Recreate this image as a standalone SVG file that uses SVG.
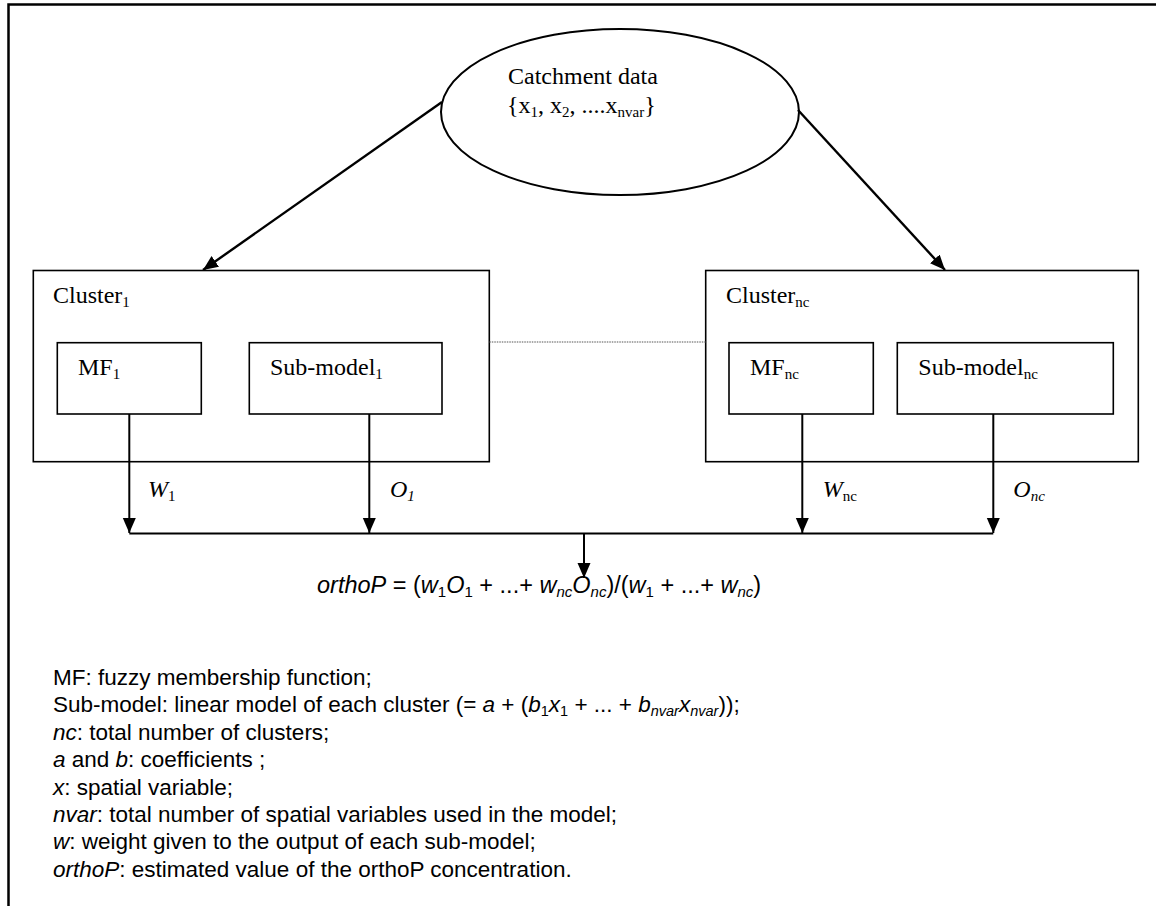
<svg xmlns="http://www.w3.org/2000/svg" width="1156" height="906" viewBox="0 0 1156 906">
<style>
.box{fill:none;stroke:#000;stroke-width:1.6}
.cn{fill:none;stroke:#000;stroke-width:2}
.diag{fill:none;stroke:#000;stroke-width:2.4}
.tm{font-family:"Liberation Serif","Times New Roman",serif;font-size:24px;fill:#000}
.ar{font-family:"Liberation Sans",Arial,sans-serif;fill:#000}
.sub{font-size:15px}
.i{font-style:italic}
</style>
<defs>
<marker id="ah" markerUnits="userSpaceOnUse" markerWidth="16" markerHeight="14" refX="15" refY="6.5" orient="auto">
<path d="M0,0 L15,6.5 L0,13 z" fill="#000"/>
</marker>
</defs>
<rect x="8.5" y="4.5" width="1160" height="910" fill="#fff" stroke="#000" stroke-width="2.5"/>

<g id="catchment">
<ellipse cx="620" cy="112" rx="179" ry="83" fill="none" stroke="#000" stroke-width="2"/>
<text class="tm" x="508" y="84">Catchment data</text>
<text class="tm" x="507" y="113">{x<tspan class="sub" dy="4">1</tspan><tspan dy="-4">, x</tspan><tspan class="sub" dy="4">2</tspan><tspan dy="-4">, ....x</tspan><tspan class="sub" dy="4">nvar</tspan><tspan dy="-4">}</tspan></text>
</g>

<g id="cluster1">
<rect class="box" x="33.3" y="270.5" width="456" height="191.2"/>
<text class="tm" x="53" y="303">Cluster<tspan class="sub" dy="4">1</tspan></text>
</g>
<g id="mf1">
<rect class="box" x="57.3" y="342.7" width="144" height="71.3"/>
<text class="tm" x="78" y="375">MF<tspan class="sub" dy="4">1</tspan></text>
</g>
<g id="submodel1">
<rect class="box" x="249.3" y="342.7" width="192.7" height="71.3"/>
<text class="tm" x="270" y="375">Sub-model<tspan class="sub" dy="4">1</tspan></text>
</g>

<g id="clusternc">
<rect class="box" x="705.7" y="270.5" width="432.6" height="191.2"/>
<text class="tm" x="726" y="303">Cluster<tspan class="sub" dy="4">nc</tspan></text>
</g>
<g id="mfnc">
<rect class="box" x="729" y="342.7" width="144.3" height="71.3"/>
<text class="tm" x="750" y="375">MF<tspan class="sub" dy="4">nc</tspan></text>
</g>
<g id="submodelnc">
<rect class="box" x="897.3" y="342.7" width="216" height="71.3"/>
<text class="tm" x="918.3" y="375">Sub-model<tspan class="sub" dy="4">nc</tspan></text>
</g>

<g id="connectors">
<line class="diag" x1="442" y1="102" x2="203" y2="270" marker-end="url(#ah)"/>
<line class="diag" x1="798" y1="110" x2="945" y2="270" marker-end="url(#ah)"/>
<line x1="489.3" y1="342" x2="705.7" y2="342" stroke="#555" stroke-width="1.2" stroke-dasharray="1.5 1"/>
<line class="cn" x1="129.3" y1="414" x2="129.3" y2="533" marker-end="url(#ah)"/>
<line class="cn" x1="369.3" y1="414" x2="369.3" y2="533" marker-end="url(#ah)"/>
<line class="cn" x1="802.3" y1="414" x2="802.3" y2="533" marker-end="url(#ah)"/>
<line class="cn" x1="993.3" y1="414" x2="993.3" y2="533" marker-end="url(#ah)"/>
<line class="cn" x1="129.3" y1="533.5" x2="993.3" y2="533.5"/>
<line class="cn" x1="584" y1="533.5" x2="584" y2="578" marker-end="url(#ah)"/>
</g>

<g id="labels">
<text class="tm" x="148" y="497"><tspan class="i">W</tspan><tspan class="sub" dy="4">1</tspan></text>
<text class="tm i" x="390" y="497">O<tspan class="sub" dy="4">1</tspan></text>
<text class="tm" x="822.7" y="497"><tspan class="i">W</tspan><tspan class="sub" dy="4">nc</tspan></text>
<text class="tm i" x="1013.3" y="497">O<tspan class="sub" dy="4">nc</tspan></text>
</g>

<g id="formula">
<text class="ar" x="317" y="593" font-size="23.5"><tspan class="i">orthoP</tspan> = (<tspan class="i">w</tspan><tspan font-size="15" dy="4">1</tspan><tspan class="i" dy="-4">O</tspan><tspan font-size="15" dy="4">1</tspan><tspan dy="-4"> + ...+ </tspan><tspan class="i">w</tspan><tspan class="i" font-size="15" dy="4">nc</tspan><tspan class="i" dy="-4">O</tspan><tspan class="i" font-size="15" dy="4">nc</tspan><tspan dy="-4">)/(</tspan><tspan class="i">w</tspan><tspan font-size="15" dy="4">1</tspan><tspan dy="-4"> + ...+ </tspan><tspan class="i">w</tspan><tspan class="i" font-size="15" dy="4">nc</tspan><tspan dy="-4">)</tspan></text>
</g>

<g id="legend" class="ar" font-size="22.5">
<text x="53" y="685">MF: fuzzy membership function;</text>
<text x="53" y="712.4">Sub-model: linear model of each cluster (= <tspan class="i">a</tspan> + (<tspan class="i">b</tspan><tspan font-size="14.5" dy="4">1</tspan><tspan class="i" dy="-4">x</tspan><tspan font-size="14.5" dy="4">1</tspan><tspan dy="-4"> + ... + </tspan><tspan class="i">b</tspan><tspan class="i" font-size="14.5" dy="4">nvar</tspan><tspan class="i" dy="-4">x</tspan><tspan class="i" font-size="14.5" dy="4">nvar</tspan><tspan dy="-4">));</tspan></text>
<text x="53" y="739.8"><tspan class="i">nc</tspan>: total number of clusters;</text>
<text x="53" y="767.2"><tspan class="i">a</tspan> and <tspan class="i">b</tspan>: coefficients ;</text>
<text x="53" y="794.6"><tspan class="i">x</tspan>: spatial variable;</text>
<text x="53" y="822"><tspan class="i">nvar</tspan>: total number of spatial variables used in the model;</text>
<text x="53" y="849.4"><tspan class="i">w</tspan>: weight given to the output of each sub-model;</text>
<text x="53" y="876.8"><tspan class="i">orthoP</tspan>: estimated value of the orthoP concentration.</text>
</g>
</svg>
